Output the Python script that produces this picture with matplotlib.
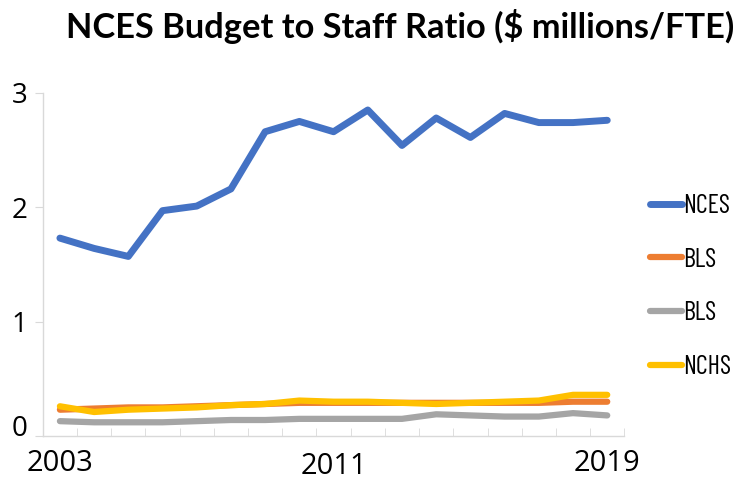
import matplotlib
matplotlib.use("Agg")
import matplotlib.pyplot as plt
from matplotlib.transforms import ScaledTranslation

years = list(range(2003, 2020))
nces = [1.73, 1.64, 1.57, 1.97, 2.01, 2.16, 2.66, 2.75, 2.66, 2.85, 2.54, 2.78, 2.61, 2.82, 2.74, 2.74, 2.76]
bls_orange = [0.23, 0.24, 0.25, 0.25, 0.26, 0.27, 0.28, 0.29, 0.29, 0.29, 0.29, 0.29, 0.29, 0.29, 0.29, 0.30, 0.30]
bls_gray = [0.13, 0.12, 0.12, 0.12, 0.13, 0.14, 0.14, 0.15, 0.15, 0.15, 0.15, 0.19, 0.18, 0.17, 0.17, 0.20, 0.18]
nchs = [0.26, 0.21, 0.23, 0.24, 0.25, 0.27, 0.28, 0.31, 0.30, 0.30, 0.29, 0.28, 0.29, 0.30, 0.31, 0.36, 0.36]
x_labels = ["2003", "2011", "2019"]
y_ticks = [0, 1, 2, 3]

title_font = ["Lato", "Open Sans", "DejaVu Sans"]
narrow_font = ["Barlow Condensed", "Asap Condensed", "DejaVu Sans"]
tick_font = ["Open Sans", "DejaVu Sans"]

fig = plt.figure(figsize=(7.38, 4.82), dpi=100)
ax = fig.add_axes([0.058, 0.0954, 0.788, 0.712])

idx = list(range(len(years)))
ax.plot(idx, nces, color="#4472C4", lw=5, solid_capstyle="round", label="NCES")
ax.plot(idx, bls_orange, color="#ED7D31", lw=4.5, solid_capstyle="round", label="BLS")
ax.plot(idx, bls_gray, color="#A5A5A5", lw=4.5, solid_capstyle="round", label="BLS")
ax.plot(idx, nchs, color="#FFC000", lw=4.5, solid_capstyle="round", label="NCHS")

ax.set_xlim(-0.5, len(years) - 0.5)
ax.set_ylim(0, 3)
for s in ["top", "right"]:
    ax.spines[s].set_visible(False)
for s in ["left", "bottom"]:
    ax.spines[s].set_color("#d9d9d9")
    ax.spines[s].set_linewidth(1)

ax.set_yticks(y_ticks)
ax.set_yticklabels([str(v) for v in y_ticks], fontfamily=tick_font, fontsize=20)
ax.tick_params(axis="y", length=6, color="#d9d9d9", pad=5)

pos = [years.index(int(t)) for t in x_labels]
ax.set_xticks(pos)
ax.set_xticklabels(x_labels, fontfamily=tick_font, fontsize=21)
ax.set_xticks([i - 0.5 for i in range(len(years) + 1)], minor=True)
ax.tick_params(axis="x", which="major", length=0, pad=9)
ax.tick_params(axis="x", which="minor", direction="in", length=6, color="#d9d9d9")

# small offsets seen in the original
lbl = ax.get_xticklabels()[1]
lbl.set_transform(lbl.get_transform() + ScaledTranslation(0, -3 / 100, fig.dpi_scale_trans))
lbl0 = ax.get_yticklabels()[0]
lbl0.set_transform(lbl0.get_transform() + ScaledTranslation(0, 11 / 100, fig.dpi_scale_trans))

title = fig.text(0.542, 0.921, "NCES Budget to Staff Ratio ($ millions/FTE)", ha="center",
                 va="baseline", fontfamily=title_font, fontweight="bold", fontsize=25)
fig.canvas.draw()
# fit title width to the original (about 670 px)
title.set_fontsize(25 * 670 / title.get_window_extent().width)


def add_legend(size):
    return fig.legend(loc="center left", bbox_to_anchor=(650 / 738, 0.4056), frameon=False,
                      prop={"family": narrow_font, "size": size}, handlelength=23 / size,
                      handletextpad=0.05, labelspacing=(40.3 - size) / size,
                      borderpad=0, borderaxespad=0)


leg = add_legend(20)
fig.canvas.draw()
size = 20 * 47 / leg.get_texts()[0].get_window_extent().width
leg.remove()
add_legend(size)

fig.savefig("out.png", dpi=100)
